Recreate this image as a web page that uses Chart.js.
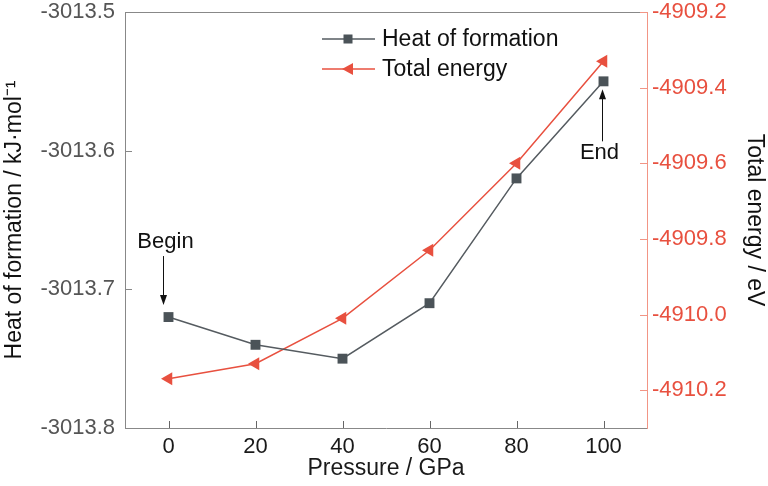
<!DOCTYPE html>
<html><head><meta charset="utf-8">
<script src="https://cdn.jsdelivr.net/npm/chart.js@4/dist/chart.umd.min.js"></script>
<style>html,body{margin:0;padding:0;background:#fff}#wrap{width:768px;height:486px}</style>
</head><body><div id="wrap"><canvas id="c" width="768" height="486"></canvas></div>
<script>
const pressure = [0, 20, 40, 60, 80, 100];
const heatOfFormation = [-3013.72, -3013.74, -3013.75, -3013.71, -3013.62, -3013.55];
const totalEnergy = [-4910.17, -4910.13, -4910.01, -4909.83, -4909.60, -4909.33];
const xTicks = [0, 20, 40, 60, 80, 100];
const leftTicks = [-3013.8, -3013.7, -3013.6, -3013.5];
const rightTicks = [-4910.2, -4910.0, -4909.8, -4909.6, -4909.4, -4909.2];
const seriesNames = ['Heat of formation', 'Total energy'];
const xTitle = 'Pressure / GPa';
const leftTitle = 'Heat of formation / kJ\u00b7mol\u207b\u00b9';
const rightTitle = 'Total energy / eV';

const FONT = "'Liberation Sans', Arial, Helvetica, sans-serif";
const GRAY = '#555b60';
const GRAYM = '#4b5358';
const RED = '#e8503f';
const REDAX = '#f29585';
const FS = 23;

const heatData = pressure.map((p, i) => ({x: p, y: heatOfFormation[i]}));
const energyData = pressure.map((p, i) => ({x: p, y: totalEnergy[i]}));

function setTicks(arr) { return function(scale) { scale.ticks = arr.map(v => ({value: v})); }; }
function fitV(w) { return function(s) { s.width = w; s.paddingTop = 12; s.paddingBottom = 0; }; }

const frame = {
  id: 'frame',
  afterDraw(chart) {
    const ctx = chart.ctx, a = chart.chartArea;
    const sx = chart.scales.x, sy = chart.scales.y, sy2 = chart.scales.y2;
    ctx.save();
    ctx.lineWidth = 1;
    ctx.strokeStyle = '#888';
    ctx.beginPath(); ctx.moveTo(a.left, Math.round(a.top) + 0.5); ctx.lineTo(a.right, Math.round(a.top) + 0.5); ctx.stroke();
    ctx.beginPath();
    leftTicks.forEach(v => { const y = Math.round(sy.getPixelForValue(v)) + 0.5; ctx.moveTo(a.left, y); ctx.lineTo(a.left + 7, y); });
    ctx.stroke();
    ctx.strokeStyle = '#666';
    ctx.beginPath();
    xTicks.forEach(v => { const x = Math.round(sx.getPixelForValue(v)) + 0.5; ctx.moveTo(x, a.bottom); ctx.lineTo(x, a.bottom - 7); });
    ctx.stroke();
    ctx.strokeStyle = REDAX;
    ctx.beginPath();
    rightTicks.forEach(v => { const y = Math.round(sy2.getPixelForValue(v)) + 0.5; ctx.moveTo(a.right, y); ctx.lineTo(a.right - 7, y); });
    ctx.stroke();

    // legend
    ctx.font = FS + 'px ' + FONT;
    ctx.textBaseline = 'middle';
    ctx.textAlign = 'left';
    const lx0 = 322, lx1 = 375, lm = 348, tx = 382;
    const rows = [{y: 39, c: GRAY, m: GRAYM, s: 'rect'}, {y: 69, c: RED, m: RED, s: 'tri'}];
    rows.forEach((r, i) => {
      ctx.strokeStyle = r.c; ctx.lineWidth = 1.5;
      ctx.beginPath(); ctx.moveTo(lx0, r.y); ctx.lineTo(lx1, r.y); ctx.stroke();
      ctx.fillStyle = r.m;
      if (r.s === 'rect') { ctx.fillRect(lm - 4.5, r.y - 4.5, 9, 9); }
      else { ctx.beginPath(); ctx.moveTo(lm - 6, r.y); ctx.lineTo(lm + 5, r.y - 6); ctx.lineTo(lm + 5, r.y + 6); ctx.closePath(); ctx.fill(); }
      ctx.fillStyle = '#111';
      ctx.fillText(seriesNames[i], tx, r.y + 1);
    });

    // annotations
    const meta = chart.getDatasetMeta(0);
    const p0 = meta.data[0], pN = meta.data[meta.data.length - 1];
    ctx.strokeStyle = '#111'; ctx.fillStyle = '#111'; ctx.lineWidth = 1;
    function arrow(x, y1, y2) {
      const dir = y2 > y1 ? 1 : -1;
      ctx.beginPath(); ctx.moveTo(x, y1); ctx.lineTo(x, y2 - dir * 8); ctx.stroke();
      ctx.beginPath(); ctx.moveTo(x, y2); ctx.lineTo(x - 3.5, y2 - dir * 10); ctx.lineTo(x + 3.5, y2 - dir * 10); ctx.closePath(); ctx.fill();
    }
    const bx = Math.round(p0.x - 6) + 0.5;
    arrow(bx, p0.y - 61, p0.y - 12);
    ctx.textAlign = 'center';
    ctx.font = '22px ' + FONT;
    ctx.fillText('Begin', p0.x - 3, p0.y - 75);
    const ex = Math.round(pN.x - 1.5) + 0.5;
    arrow(ex, pN.y + 60, pN.y + 8);
    ctx.fillText('End', pN.x - 4, pN.y + 72);
    ctx.restore();
  }
};

new Chart(document.getElementById('c'), {
  type: 'line',
  data: {
    datasets: [
      {label: seriesNames[0], data: heatData, yAxisID: 'y', borderColor: GRAY, borderWidth: 1.5,
       pointStyle: 'rect', pointRadius: 7, pointBackgroundColor: GRAYM, pointBorderColor: GRAYM, pointBorderWidth: 0, tension: 0},
      {label: seriesNames[1], data: energyData, yAxisID: 'y2', borderColor: RED, borderWidth: 1.5,
       pointStyle: 'triangle', pointRotation: -90, pointRadius: 7.5, pointBackgroundColor: RED, pointBorderColor: RED, pointBorderWidth: 0, tension: 0}
    ]
  },
  options: {
    responsive: false,
    animation: false,
    layout: {padding: {top: 0, left: 0, right: 0, bottom: 0}},
    plugins: {legend: {display: false}, tooltip: {enabled: false}},
    scales: {
      x: {
        type: 'linear', min: -10, max: 110,
        afterBuildTicks: setTicks(xTicks),
        afterFit(s) { s.height = 58; },
        grid: {display: false, drawTicks: false},
        border: {display: true, color: '#888', width: 1},
        ticks: {padding: 6, color: '#1a1a1a', font: {family: FONT, size: 22}, callback: v => String(v)},
        title: {display: true, text: xTitle, color: '#1a1a1a', font: {family: FONT, size: FS}, padding: {top: 0, bottom: 4}}
      },
      y: {
        type: 'linear', position: 'left', min: -3013.8, max: -3013.5,
        afterBuildTicks: setTicks(leftTicks),
        afterFit: fitV(125),
        grid: {display: false, drawTicks: false},
        border: {display: true, color: '#888', width: 1},
        ticks: {padding: 10, color: '#555', font: {family: FONT, size: 22}, callback: v => v.toFixed(1)},
        title: {display: true, text: leftTitle, color: '#111', font: {family: FONT, size: FS}, padding: {top: 1, bottom: 0}}
      },
      y2: {
        type: 'linear', position: 'right', min: -4910.3, max: -4909.2,
        afterBuildTicks: setTicks(rightTicks),
        afterFit: fitV(121),
        grid: {display: false, drawTicks: false},
        border: {display: true, color: REDAX, width: 1},
        ticks: {padding: 5, color: RED, font: {family: FONT, size: 22}, callback: v => v.toFixed(1)},
        title: {display: true, text: rightTitle, color: '#111', font: {family: FONT, size: FS}, padding: {top: 0, bottom: 0}}
      }
    }
  },
  plugins: [frame]
});
</script></body></html>
